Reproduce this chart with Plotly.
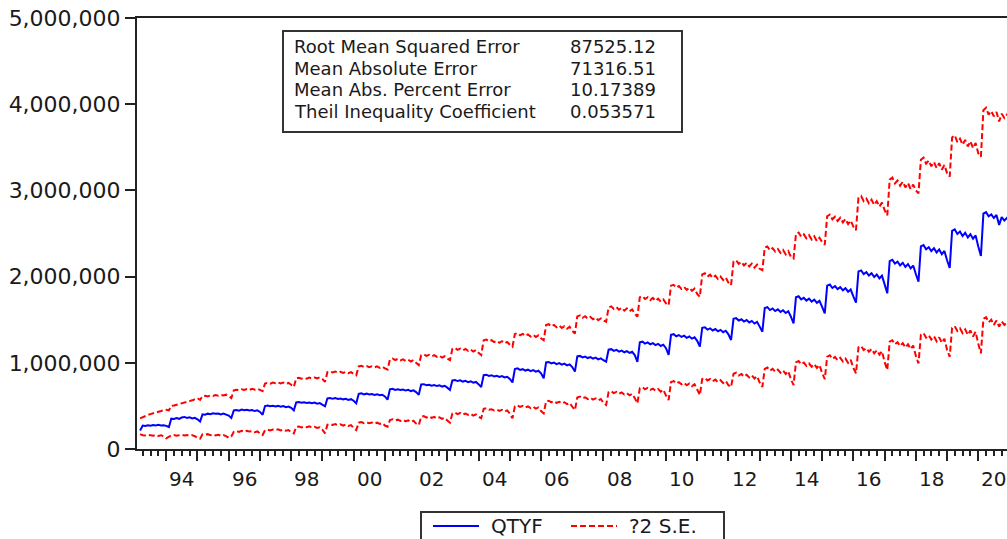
import pandas as pd
import plotly.graph_objects as go

# Monthly forecast (QTYF) and +/-2 S.E. bands, values in thousands, one row per 12 months (Mar..Feb)
qtyf_k = [
    215, 272, 268, 276, 270, 278, 274, 280, 272, 276, 268, 255,
    352, 348, 358, 350, 365, 372, 360, 368, 355, 362, 345, 318,
    402, 398, 410, 404, 415, 408, 412, 400, 410, 396, 388, 360,
    448, 452, 445, 458, 450, 455, 446, 452, 440, 448, 430, 398,
    498, 505, 496, 502, 494, 500, 490, 498, 485, 492, 478, 448,
    540, 545, 536, 542, 535, 540, 530, 538, 526, 532, 518, 495,
    588, 592, 582, 590, 580, 586, 576, 582, 570, 578, 560, 530,
    640, 645, 634, 642, 632, 638, 628, 636, 624, 630, 610, 572,
    692, 698, 686, 694, 684, 690, 678, 686, 672, 680, 660, 628,
    748, 752, 740, 746, 735, 742, 730, 738, 724, 732, 712, 685,
    795, 800, 788, 796, 782, 790, 776, 786, 770, 778, 752, 720,
    858, 862, 848, 856, 842, 850, 836, 846, 830, 838, 812, 772,
    928, 935, 918, 926, 910, 920, 904, 915, 898, 908, 878, 820,
    1005, 1010, 994, 1002, 985, 996, 978, 990, 970, 982, 950, 898,
    1075, 1080, 1062, 1072, 1055, 1066, 1048, 1060, 1040, 1052, 1030, 1012,
    1152, 1158, 1138, 1150, 1130, 1142, 1122, 1136, 1115, 1128, 1090, 1012,
    1238, 1245, 1222, 1236, 1215, 1228, 1205, 1220, 1195, 1210, 1170, 1092,
    1325, 1332, 1308, 1322, 1300, 1315, 1290, 1305, 1280, 1296, 1255, 1188,
    1405, 1412, 1385, 1400, 1375, 1392, 1365, 1382, 1355, 1372, 1330, 1265,
    1510, 1518, 1490, 1505, 1478, 1496, 1468, 1486, 1455, 1475, 1420, 1360,
    1635, 1645, 1612, 1630, 1600, 1620, 1590, 1610, 1578, 1598, 1535, 1458,
    1760, 1772, 1735, 1755, 1722, 1745, 1710, 1732, 1695, 1718, 1650, 1574,
    1895, 1908, 1868, 1890, 1855, 1878, 1840, 1865, 1825, 1850, 1770, 1697,
    2060, 2072, 2030, 2052, 2012, 2040, 1995, 2025, 1980, 2010, 1910, 1806,
    2180, 2195, 2150, 2172, 2130, 2160, 2112, 2145, 2095, 2128, 2030, 1940,
    2350, 2365, 2318, 2342, 2295, 2330, 2280, 2315, 2260, 2298, 2190, 2100,
    2530, 2548, 2495, 2522, 2470, 2508, 2455, 2492, 2440, 2478, 2350, 2240,
    2730, 2748, 2700, 2722, 2680, 2715, 2600, 2690, 2650, 2680, 2640, 2660,
]

upper_k = [
    355, 370, 388, 395, 405, 412, 420, 428, 440, 450, 455, 448,
    500, 505, 512, 520, 528, 535, 545, 555, 565, 580, 590, 570,
    612, 618, 610, 622, 615, 625, 618, 628, 620, 630, 615, 590,
    680, 688, 682, 692, 684, 695, 686, 698, 688, 700, 690, 672,
    760, 768, 758, 770, 762, 772, 760, 770, 756, 766, 745, 720,
    820, 826, 815, 825, 815, 828, 818, 830, 820, 832, 812, 780,
    892, 900, 888, 898, 886, 896, 882, 894, 880, 892, 870, 855,
    958, 966, 952, 962, 950, 960, 946, 958, 942, 955, 935, 922,
    1040, 1050, 1032, 1045, 1028, 1040, 1022, 1036, 1015, 1030, 1000, 972,
    1088, 1098, 1080, 1092, 1074, 1088, 1068, 1082, 1060, 1076, 1050, 1030,
    1160, 1172, 1150, 1165, 1145, 1160, 1138, 1155, 1130, 1148, 1115, 1090,
    1262, 1270, 1248, 1262, 1240, 1255, 1232, 1250, 1225, 1242, 1210, 1187,
    1335, 1345, 1320, 1336, 1312, 1330, 1305, 1325, 1298, 1318, 1285, 1262,
    1438, 1448, 1422, 1440, 1412, 1432, 1405, 1425, 1395, 1418, 1370, 1340,
    1538, 1550, 1522, 1540, 1512, 1532, 1505, 1525, 1495, 1515, 1490, 1475,
    1642, 1655, 1625, 1645, 1615, 1638, 1605, 1630, 1598, 1620, 1570, 1535,
    1760, 1772, 1740, 1760, 1728, 1752, 1718, 1745, 1710, 1735, 1690, 1668,
    1895, 1905, 1872, 1890, 1858, 1880, 1845, 1870, 1835, 1860, 1800, 1765,
    2025, 2038, 2000, 2022, 1985, 2010, 1972, 2000, 1960, 1990, 1930, 1900,
    2175, 2188, 2148, 2170, 2130, 2160, 2118, 2150, 2105, 2138, 2090, 2075,
    2335, 2350, 2305, 2330, 2290, 2320, 2275, 2310, 2260, 2295, 2230, 2210,
    2495, 2512, 2462, 2490, 2445, 2480, 2430, 2468, 2412, 2450, 2400, 2370,
    2700, 2718, 2665, 2695, 2645, 2682, 2628, 2668, 2610, 2650, 2580, 2540,
    2915, 2935, 2875, 2905, 2850, 2892, 2832, 2875, 2812, 2858, 2770, 2710,
    3125, 3148, 3080, 3115, 3055, 3100, 3035, 3085, 3015, 3068, 3000, 2966,
    3355, 3380, 3310, 3345, 3280, 3330, 3260, 3315, 3240, 3295, 3200, 3160,
    3615, 3640, 3560, 3600, 3530, 3585, 3510, 3570, 3490, 3550, 3430, 3390,
    3930, 3958, 3880, 3920, 3860, 3910, 3800, 3890, 3840, 3880, 3850, 3870,
]

lower_k = [
    172, 160, 158, 165, 160, 155, 162, 150, 158, 148, 124, 140,
    158, 162, 155, 160, 165, 158, 162, 155, 160, 150, 128, 120,
    170, 165, 172, 160, 168, 158, 165, 155, 162, 150, 130, 145,
    200, 208, 198, 210, 200, 212, 202, 208, 196, 204, 180, 162,
    218, 225, 215, 226, 218, 228, 216, 225, 212, 220, 195, 180,
    255, 262, 250, 260, 252, 262, 248, 258, 245, 252, 225, 182,
    282, 290, 278, 288, 276, 286, 272, 284, 268, 278, 245, 220,
    305, 312, 300, 310, 298, 308, 294, 305, 290, 300, 272, 260,
    335, 345, 330, 340, 325, 338, 320, 332, 315, 328, 295, 278,
    372, 382, 365, 378, 360, 372, 355, 368, 350, 362, 330, 305,
    412, 422, 405, 418, 400, 412, 395, 408, 388, 402, 375, 356,
    465, 472, 455, 462, 448, 458, 442, 455, 435, 448, 410, 356,
    495, 505, 488, 500, 480, 495, 475, 490, 468, 482, 440, 414,
    552, 560, 542, 555, 535, 548, 528, 542, 520, 535, 490, 452,
    598, 608, 588, 600, 580, 595, 572, 588, 565, 580, 535, 510,
    660, 670, 648, 662, 640, 655, 632, 648, 622, 640, 590, 530,
    705, 718, 692, 708, 685, 700, 675, 695, 665, 688, 620, 568,
    778, 788, 760, 775, 750, 768, 740, 760, 730, 752, 690, 626,
    812, 825, 795, 812, 785, 805, 775, 798, 765, 790, 740, 720,
    872, 885, 852, 870, 840, 862, 830, 855, 818, 845, 770, 720,
    930, 945, 910, 930, 895, 920, 885, 912, 870, 902, 810, 742,
    1005, 1020, 982, 1002, 965, 992, 955, 985, 940, 975, 880, 810,
    1070, 1088, 1045, 1068, 1030, 1058, 1015, 1048, 1000, 1035, 940, 878,
    1180, 1195, 1148, 1170, 1128, 1160, 1110, 1145, 1095, 1135, 1010, 917,
    1245, 1262, 1215, 1240, 1195, 1228, 1178, 1215, 1160, 1200, 1080, 994,
    1325, 1345, 1292, 1320, 1270, 1308, 1250, 1295, 1232, 1280, 1150, 1070,
    1405, 1425, 1370, 1400, 1345, 1388, 1325, 1375, 1305, 1360, 1220, 1110,
    1510, 1530, 1470, 1500, 1440, 1490, 1420, 1480, 1440, 1470, 1450, 1460,
]

start_month = "1993-03-01"
year_labels = ["94", "96", "98", "00", "02", "04", "06", "08", "10", "12", "14", "16", "18", "20"]
label_years = [1994, 1996, 1998, 2000, 2002, 2004, 2006, 2008, 2010, 2012, 2014, 2016, 2018, 2020]

stat_names = ["Root Mean Squared Error", "Mean Absolute Error",
              "Mean Abs. Percent Error", "Theil Inequality Coefficient"]
stat_values = ["87525.12", "71316.51", "10.17389", "0.053571"]

legend_names = ["QTYF", "?2 S.E."]

FONT = "DejaVu Sans"
TXT = "#1a1a1a"
BLUE = "#0000ff"
RED = "#ff0000"
DASH = "6px,3px"


def dates_for(series):
    return pd.date_range(start_month, periods=len(series), freq="MS")


q = [v * 1000 for v in qtyf_k]
u = [v * 1000 for v in upper_k]
lo = [v * 1000 for v in lower_k]

fig = go.Figure()
fig.add_trace(go.Scatter(x=dates_for(q), y=q, mode="lines", name=legend_names[0],
                         showlegend=False, line=dict(color=BLUE, width=2)))
fig.add_trace(go.Scatter(x=dates_for(u), y=u, mode="lines", name=legend_names[1],
                         showlegend=False, line=dict(color=RED, width=2, dash=DASH)))
fig.add_trace(go.Scatter(x=dates_for(lo), y=lo, mode="lines", name=legend_names[1],
                         showlegend=False, line=dict(color=RED, width=2, dash=DASH)))

W, H = 1007, 539
L, R, T, B = 137, 0, 18, 90
pw, ph = W - L - R, H - T - B


def px_x(px):
    return (px - L) / pw


def px_y(py):
    return (H - B - py) / ph


year_ticks = [f"{y}-01-01" for y in range(1993, 2022)]

fig.update_xaxes(
    type="date",
    range=["1993-01-24", "2020-12-02"],
    tickvals=year_ticks, ticktext=[""] * len(year_ticks),
    ticks="outside", ticklen=10, tickwidth=2, tickcolor="#222",
    minor=dict(dtick="M3", tick0="1993-01-01", ticks="outside", ticklen=5, tickwidth=2, tickcolor="#222"),
    showline=True, linecolor="#222", linewidth=2, mirror=True,
    showgrid=False, zeroline=False,
)
fig.update_yaxes(
    range=[0, 5000000],
    tickvals=[0, 1000000, 2000000, 3000000, 4000000, 5000000],
    tickformat=",d",
    ticks="outside", ticklen=10, tickwidth=2, tickcolor="#222",
    tickfont=dict(family=FONT, size=22, color=TXT),
    ticklabelstandoff=0,
    showline=True, linecolor="#222", linewidth=2,
    showgrid=False, zeroline=False,
)

annotations = []
for yr, lab in zip(label_years, year_labels):
    annotations.append(dict(x=f"{yr}-07-02", y=0, xref="x", yref="paper", text=lab,
                            showarrow=False, yanchor="middle", xanchor="center", yshift=-30,
                            font=dict(family=FONT, size=20, color=TXT)))

row_y = [46.5, 68.0, 89.5, 111.0]
for name, val, ry in zip(stat_names, stat_values, row_y):
    annotations.append(dict(x=px_x(292), y=px_y(ry), xref="paper", yref="paper", text=name,
                            showarrow=False, xanchor="left", yanchor="middle",
                            font=dict(family=FONT, size=18, color=TXT)))
    annotations.append(dict(x=px_x(568), y=px_y(ry), xref="paper", yref="paper", text=val,
                            showarrow=False, xanchor="left", yanchor="middle",
                            font=dict(family=FONT, size=18, color=TXT)))

# legend (drawn as a box with sample lines and text, like the original)
leg_y = 526
annotations.append(dict(x=px_x(489), y=px_y(leg_y), xref="paper", yref="paper", text=legend_names[0],
                        showarrow=False, xanchor="left", yanchor="middle",
                        font=dict(family=FONT, size=20, color=TXT)))
annotations.append(dict(x=px_x(627), y=px_y(leg_y), xref="paper", yref="paper", text=legend_names[1],
                        showarrow=False, xanchor="left", yanchor="middle",
                        font=dict(family=FONT, size=20, color=TXT)))

shapes = [
    dict(type="rect", xref="paper", yref="paper",
         x0=px_x(283), x1=px_x(682), y0=px_y(132), y1=px_y(31),
         line=dict(color="#333", width=2), fillcolor="white", layer="above"),
    dict(type="rect", xref="paper", yref="paper",
         x0=px_x(421), x1=px_x(724), y0=px_y(548), y1=px_y(512),
         line=dict(color="#333", width=2), fillcolor="white", layer="above"),
    dict(type="line", xref="paper", yref="paper",
         x0=px_x(433), x1=px_x(479), y0=px_y(leg_y), y1=px_y(leg_y),
         line=dict(color=BLUE, width=2), layer="above"),
    dict(type="line", xref="paper", yref="paper",
         x0=px_x(571), x1=px_x(617), y0=px_y(leg_y), y1=px_y(leg_y),
         line=dict(color=RED, width=2, dash=DASH), layer="above"),
]

fig.update_layout(
    width=W, height=H,
    margin=dict(l=L, r=R, t=T, b=B, pad=0, autoexpand=False),
    paper_bgcolor="white", plot_bgcolor="white",
    showlegend=False,
    annotations=annotations, shapes=shapes,
)

fig.write_html("out.html")
